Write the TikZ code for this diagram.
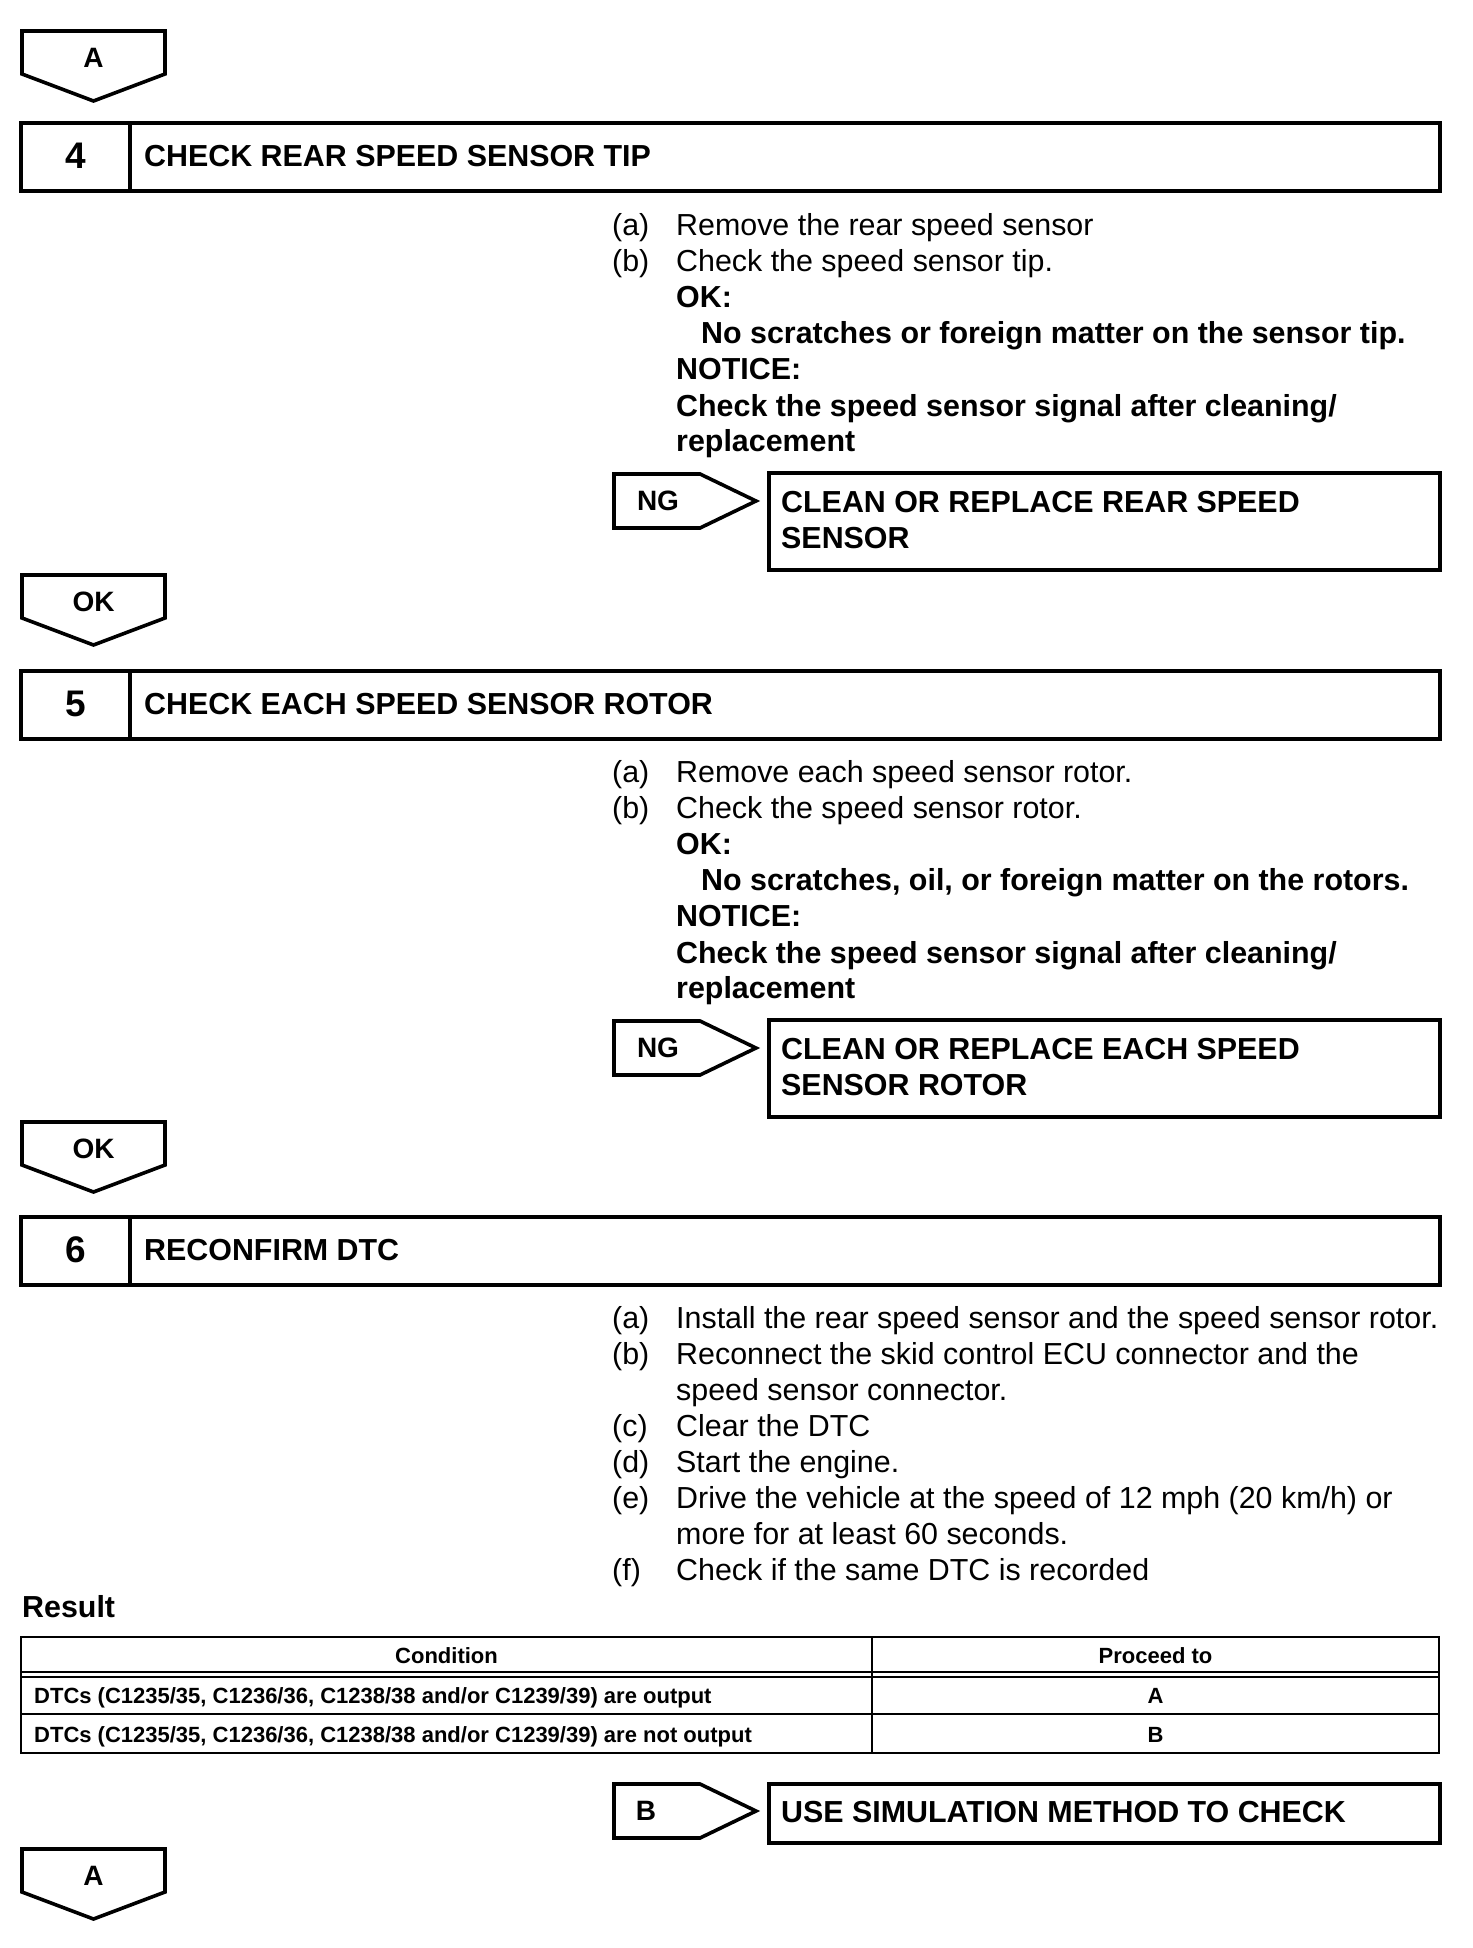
\documentclass[tikz,border=0pt]{standalone}
\usepackage{fontspec}
\setmainfont{Liberation Sans}
\newcommand{\mydownpent}[3]{%
  \draw[pent] (22,#1) -- (165,#1) -- (165,#1+43) -- (93.5,#1+70) -- (22,#1+43) -- cycle;
  \node[lbl] (#2) at (93.5,#1+27) {#3};}
\newcommand{\myrightpent}[4]{%
  \draw[pent] (614,#1) -- (700,#1) -- (756,#1+27) -- (700,#1+54) -- (614,#1+54) -- cycle;
  \node[lbl] (#2) at (#4,#1+27) {#3};}
\newcommand{\mystep}[4]{%
  \draw[box] (21,#1) rectangle (1440,#1+68);
  \draw[box] (130,#1) -- (130,#1+68);
  \node[num] (#2n) at (76,#1+33) {#3};
  \node[ttl] (#2t) at (144,#1+43) {#4};}
\begin{document}
\begin{tikzpicture}[x=1pt,y=-1pt,
  box/.style={line width=4pt},
  pent/.style={line width=3.6pt, line join=miter},
  thin/.style={line width=2.2pt},
  txt/.style={anchor=base west, inner sep=0pt, font=\fontsize{30.4}{36}\selectfont},
  btxt/.style={anchor=base west, inner sep=0pt, font=\fontsize{30.4}{36}\selectfont\bfseries},
  ttl/.style={anchor=base west, inner sep=0pt, font=\fontsize{30.4}{36}\selectfont\bfseries},
  num/.style={anchor=center, inner sep=0pt, font=\fontsize{37}{40}\selectfont\bfseries},
  lbl/.style={anchor=center, inner sep=0pt, font=\fontsize{28}{32}\selectfont\bfseries},
  tbl/.style={inner sep=0pt, font=\fontsize{22}{26}\selectfont\bfseries}]
\useasboundingbox (0,0) rectangle (1472,1948);

% ---- top A
\mydownpent{31}{pa1}{A}

% ---- step 4
\mystep{123}{s4}{4}{CHECK REAR SPEED SENSOR TIP}
\node[txt] (s4la) at (612,235) {(a)};
\node[txt] (s4a) at (676,235) {Remove the rear speed sensor};
\node[txt] (s4lb) at (612,271) {(b)};
\node[txt] (s4b) at (676,271) {Check the speed sensor tip.};
\node[btxt] (s4ok) at (676,307) {OK:};
\node[btxt] (s4okt) at (701,343) {No scratches or foreign matter on the sensor tip.};
\node[btxt] (s4nt) at (676,379) {NOTICE:};
\node[btxt] (s4n1) at (676,416) {Check the speed sensor signal after cleaning/};
\node[btxt] (s4n2) at (676,451) {replacement};
\myrightpent{474}{ng4}{NG}{658}
\draw[box] (769,473) rectangle (1440,570);
\node[ttl] (r4a) at (781,512) {CLEAN OR REPLACE REAR SPEED};
\node[ttl] (r4b) at (781,548) {SENSOR};

% ---- OK
\mydownpent{575}{ok4}{OK}

% ---- step 5
\mystep{671}{s5}{5}{CHECK EACH SPEED SENSOR ROTOR}
\node[txt] (s5la) at (612,782) {(a)};
\node[txt] (s5a) at (676,782) {Remove each speed sensor rotor.};
\node[txt] (s5lb) at (612,818) {(b)};
\node[txt] (s5b) at (676,818) {Check the speed sensor rotor.};
\node[btxt] (s5ok) at (676,854) {OK:};
\node[btxt] (s5okt) at (701,890) {No scratches, oil, or foreign matter on the rotors.};
\node[btxt] (s5nt) at (676,926) {NOTICE:};
\node[btxt] (s5n1) at (676,963) {Check the speed sensor signal after cleaning/};
\node[btxt] (s5n2) at (676,998) {replacement};
\myrightpent{1021}{ng5}{NG}{658}
\draw[box] (769,1020) rectangle (1440,1117);
\node[ttl] (r5a) at (781,1059) {CLEAN OR REPLACE EACH SPEED};
\node[ttl] (r5b) at (781,1095) {SENSOR ROTOR};

% ---- OK
\mydownpent{1122}{ok5}{OK}

% ---- step 6
\mystep{1217}{s6}{6}{RECONFIRM DTC}
\node[txt] (s6la) at (612,1328) {(a)};
\node[txt] (s6a) at (676,1328) {Install the rear speed sensor and the speed sensor rotor.};
\node[txt] (s6lb) at (612,1364) {(b)};
\node[txt] (s6b1) at (676,1364) {Reconnect the skid control ECU connector and the};
\node[txt] (s6b2) at (676,1400) {speed sensor connector.};
\node[txt] (s6lc) at (612,1436) {(c)};
\node[txt] (s6c) at (676,1436) {Clear the DTC};
\node[txt] (s6ld) at (612,1472) {(d)};
\node[txt] (s6d) at (676,1472) {Start the engine.};
\node[txt] (s6le) at (612,1508) {(e)};
\node[txt] (s6e1) at (676,1508) {Drive the vehicle at the speed of 12 mph (20 km/h) or};
\node[txt] (s6e2) at (676,1544) {more for at least 60 seconds.};
\node[txt] (s6lf) at (612,1580) {(f)};
\node[txt] (s6f) at (676,1580) {Check if the same DTC is recorded};

\node[btxt] (res) at (22,1617) {Result};

% ---- table
\draw[thin] (21,1637) rectangle (1439,1753);
\draw[line width=1.6pt] (21,1672) -- (1439,1672);
\draw[line width=1.6pt] (21,1677) -- (1439,1677);
\draw[thin] (21,1714) -- (1439,1714);
\draw[thin] (872,1637) -- (872,1753);
\node[tbl, anchor=base] (th1) at (446.5,1663) {Condition};
\node[tbl, anchor=base] (th2) at (1155.5,1663) {Proceed to};
\node[tbl, anchor=base west] (tr1) at (34,1703) {DTCs (C1235/35, C1236/36, C1238/38 and/or C1239/39) are output};
\node[tbl, anchor=base] (tr1b) at (1155.5,1703) {A};
\node[tbl, anchor=base west] (tr2) at (34,1742) {DTCs (C1235/35, C1236/36, C1238/38 and/or C1239/39) are not output};
\node[tbl, anchor=base] (tr2b) at (1155.5,1742) {B};

% ---- B
\myrightpent{1784}{pb}{B}{646}
\draw[box] (769,1784) rectangle (1440,1843);
\node[ttl] (r6) at (781,1822) {USE SIMULATION METHOD TO CHECK};

% ---- bottom A
\mydownpent{1849}{pa2}{A}
\end{tikzpicture}
\end{document}
